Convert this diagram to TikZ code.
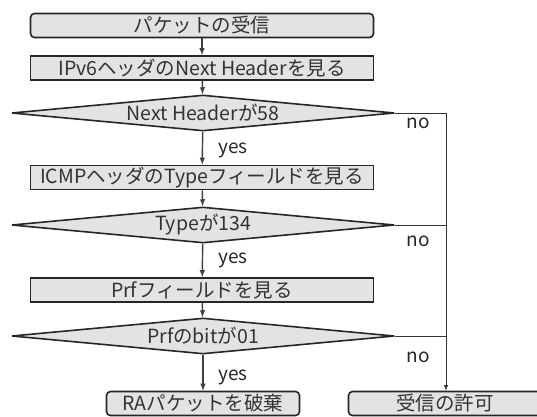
\documentclass[tikz,border=0pt]{standalone}
\usepackage{fontspec}
\setmainfont{Noto Sans CJK JP}
\usetikzlibrary{shapes.geometric}
\tikzset{>=latex,
  box/.style={draw=black!85,line width=1.6pt,fill=gray!22,minimum width=343pt,
    minimum height=24pt,inner sep=0pt,text=black!80,font=\fontsize{19.5}{19.5}\selectfont},
  rbox/.style={box,rounded corners=4pt},
  ask/.style={box,diamond,aspect=10,minimum width=383pt,minimum height=36pt},
  lbl/.style={font=\fontsize{19}{19}\selectfont,text=black!85},
  flow/.style={->,line width=1.4pt,draw=black!75}
}
\begin{document}
\begin{tikzpicture}[x=1pt,y=-1pt]
  \useasboundingbox (0,0) rectangle (537,416);
  \node[rbox] (recv) at (202,25.5) {パケットの受信};
  \node[box] (ipv6) at (202,68) {IPv6ヘッダのNext Headerを見る};
  \node[ask] (nh) at (203,113) {Next Headerが58};
  \node[box] (icmp) at (202,177.5) {ICMPヘッダのTypeフィールドを見る};
  \node[ask] (type) at (203,225) {Typeが134};
  \node[box] (prf) at (202,290) {Prfフィールドを見る};
  \node[ask] (bit) at (203,336) {Prfのbitが01};
  \node[rbox,minimum width=193pt] (drop) at (203,403.5) {RAパケットを破棄};
  \node[rbox,minimum width=193pt] (ok) at (445,403.5) {受信の許可};
  \coordinate (c1) at (446,113);
  \coordinate (c2) at (446,225);
  \coordinate (c3) at (446,336);
  % main flow
  \draw[flow] (recv) -- (ipv6);
  \draw[flow] (ipv6) -- (nh);
  \draw[flow] (nh) -- (icmp);
  \draw[flow] (icmp) -- (type);
  \draw[flow] (type) -- (prf);
  \draw[flow] (prf) -- (bit);
  \draw[flow] (bit) -- (drop);
  % no branch
  \draw[->,line width=0.9pt,black!80] (nh.east) -- (c1) -- (c1 |- ok.north);
  \draw[line width=0.9pt,black!80] (type.east) -- (c2);
  \draw[line width=0.9pt,black!80] (bit.east) -- (c3);
  \node[lbl] (y1) at (233,150) {yes};
  \node[lbl] (y2) at (233,260) {yes};
  \node[lbl] (y3) at (233,377) {yes};
  \node[lbl] (n1) at (418,123) {no};
  \node[lbl] (n2) at (418,241) {no};
  \node[lbl] (n3) at (418,357) {no};
\end{tikzpicture}
\end{document}
